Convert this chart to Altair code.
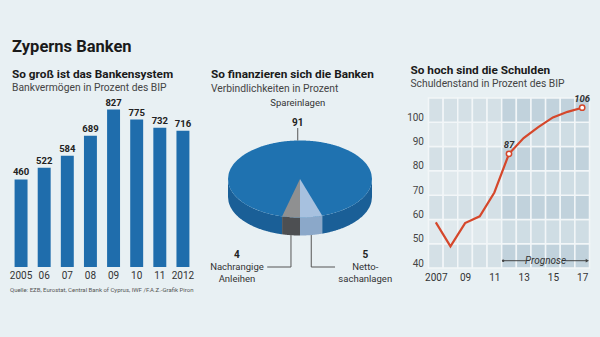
import altair as alt
import numpy as np
import pandas as pd

FONT = 'Roboto, "Liberation Sans", sans-serif'
BG = "#e8f0f3"

# ---------------- data ----------------
bar_years = ["2005", "06", "07", "08", "09", "10", "11", "2012"]
bank_assets = [460, 522, 584, 689, 827, 775, 732, 716]
source_note = "Quelle: EZB, Eurostat, Central Bank of Cyprus, IWF /F.A.Z.-Grafik Piron"

pie_names = ["Spareinlagen", "Nachrangige\nAnleihen", "Netto-\nsachanlagen"]
pie_shares = [91, 4, 5]

debt_years = [2007, 2008, 2009, 2010, 2011, 2012, 2013, 2014, 2015, 2016, 2017]
debt_values = [58.8, 48.9, 58.5, 61.3, 71.1, 87, 93.5, 98, 102, 104.3, 106]
debt_marked = [2012, 2017]
forecast_from = 2012
debt_y_ticks = [40, 50, 60, 70, 80, 90, 100]
debt_x_ticks = [2007, 2009, 2011, 2013, 2015, 2017]
debt_x_labels = ["2007", "09", "11", "13", "15", "17"]


def panel_title(text, sub, dx):
    return alt.TitleParams(
        text=text, subtitle=sub, anchor="start", frame="group", dx=dx, offset=4,
        font=FONT, fontSize=11.8, fontWeight="bold", color="#1a1a1a",
        subtitleFont=FONT, subtitleFontSize=10.3, subtitleColor="#444", subtitlePadding=3,
    )


# ---------------- bar chart ----------------
bar_df = pd.DataFrame({"jahr": bar_years, "wert": bank_assets})
bar_x = alt.X(
    "jahr:N", sort=bar_years,
    scale=alt.Scale(paddingInner=0.44, paddingOuter=0.22),
    axis=alt.Axis(
        title=source_note, titleAnchor="start", titleFontSize=6, titleFontWeight="normal",
        titleColor="#555", titlePadding=6, titleFont=FONT,
        labelAngle=0, labelFontSize=10, labelColor="#333", labelPadding=3, labelFont=FONT,
        ticks=False, domain=False,
    ),
)
bar_y = alt.Y("wert:Q", scale=alt.Scale(domain=[0, 888], nice=False), axis=None)
bars = alt.Chart(bar_df).mark_bar(color="#1f6dac").encode(x=bar_x, y=bar_y)
bar_text = alt.Chart(bar_df).mark_text(
    baseline="bottom", dy=-2, fontSize=9.5, fontWeight="bold", color="#222", font=FONT
).encode(x=bar_x, y=bar_y, text="wert:Q")
bar_chart = alt.layer(bars, bar_text).properties(
    width=185, height=169,
    title=panel_title("So groß ist das Bankensystem", "Bankvermögen in Prozent des BIP", 2.5),
)

# ---------------- pie (3D ellipse) ----------------
b = 0.535      # ellipse flattening
depth = 0.25   # side thickness
ang_g = 2 * np.pi * pie_shares[1] / 100.0
ang_l = 2 * np.pi * pie_shares[2] / 100.0
xg, yg = -np.sin(ang_g), -b * np.cos(ang_g)
xl, yl = np.sin(ang_l), -b * np.cos(ang_l)


def front(x):
    return -b * np.sqrt(np.clip(1 - x ** 2, 0, None))


def back(x):
    return b * np.sqrt(np.clip(1 - x ** 2, 0, None))


def seg(rows, name, color, x0, x1, top_fn, bot_fn, n=90):
    for x in np.linspace(x0, x1, n):
        rows.append(dict(seg=name, farbe=color, x=float(x), y=float(top_fn(x)), y2=float(bot_fn(x))))


side_rows = []
seg(side_rows, "s1", "#1a5f97", -1, xg, front, lambda x: front(x) - depth)
seg(side_rows, "s2", "#4d4f52", xg, 0, front, lambda x: front(x) - depth)
seg(side_rows, "s3", "#8ba8c9", 0, xl, front, lambda x: front(x) - depth)
seg(side_rows, "s4", "#1a5f97", xl, 1, front, lambda x: front(x) - depth)
top_rows = []
seg(top_rows, "t", "#1f72b0", -1, 1, back, front, n=240)
wedge_rows = []
seg(wedge_rows, "w1", "#8f9091", xg, 0, lambda x: yg / xg * x, front)
seg(wedge_rows, "w2", "#a7c1df", 0, xl, lambda x: yl / xl * x, front)

px = alt.Scale(domain=[-1.25, 1.5625], nice=False, zero=False)
py = alt.Scale(domain=[-88 / 72, 81 / 72], nice=False, zero=False)


def pie_area(rows):
    return alt.Chart(pd.DataFrame(rows)).mark_area(opacity=1).encode(
        x=alt.X("x:Q", scale=px, axis=None),
        y=alt.Y("y:Q", scale=py, axis=None, stack=None),
        y2="y2:Q",
        color=alt.Color("farbe:N", scale=None),
        detail="seg:N",
    )


mid_blue = np.pi + (ang_l - ang_g) / 2
xm = float(np.sin(mid_blue))
xg_mid = float(-np.sin(ang_g / 2))
xl_mid = float(np.sin(ang_l / 2))
lab_y = -88 / 72
leader_df = pd.DataFrame([
    dict(x=xm, y=0.708, x2=xm, y2=float(back(xm))),
    dict(x=xg_mid, y=float(front(xg_mid) - depth), x2=xg_mid, y2=lab_y),
    dict(x=xg_mid, y=lab_y, x2=xg_mid - 0.33, y2=lab_y),
    dict(x=xl_mid, y=float(front(xl_mid) - depth), x2=xl_mid, y2=lab_y),
    dict(x=xl_mid, y=lab_y, x2=xl_mid + 0.33, y2=lab_y),
])
leaders = alt.Chart(leader_df).mark_rule(color="#555", strokeWidth=1).encode(
    x=alt.X("x:Q", scale=px, axis=None), y=alt.Y("y:Q", scale=py, axis=None), x2="x2:Q", y2="y2:Q"
)
val_df = pd.DataFrame([
    dict(x=xm, y=0.778, t=str(pie_shares[0])),
    dict(x=xg_mid - 0.75, y=-1.06, t=str(pie_shares[1])),
    dict(x=xl_mid + 0.75, y=-1.06, t=str(pie_shares[2])),
])
name_df = pd.DataFrame([
    dict(x=xm, y=1.12, t=pie_names[0]),
    dict(x=xg_mid - 0.75, y=-1.155, t=pie_names[1]),
    dict(x=xl_mid + 0.75, y=-1.155, t=pie_names[2]),
])
val_text = alt.Chart(val_df).mark_text(
    fontSize=10, fontWeight="bold", color="#222", font=FONT
).encode(x=alt.X("x:Q", scale=px, axis=None), y=alt.Y("y:Q", scale=py, axis=None), text="t:N")
name_text = alt.Chart(name_df).mark_text(
    fontSize=9.5, color="#333", font=FONT, baseline="top", lineBreak="\n", lineHeight=11.5
).encode(x=alt.X("x:Q", scale=px, axis=None), y=alt.Y("y:Q", scale=py, axis=None), text="t:N")

pie_chart = alt.layer(
    pie_area(side_rows), pie_area(top_rows), pie_area(wedge_rows), leaders, val_text, name_text
).properties(
    width=202.5, height=169,
    title=panel_title("So finanzieren sich die Banken", "Verbindlichkeiten in Prozent", 1),
)

# ---------------- line chart ----------------
cell_colors = {(False, False): "#e0e9ed", (False, True): "#d4e0e6",
               (True, False): "#cfdde4", (True, True): "#c1d2dc"}
cells = []
for yr in debt_years:
    for band in debt_y_ticks:
        prog = yr >= forecast_from
        dark = (band // 10) % 2 == 0
        cells.append(dict(x=yr - 0.5, x2=yr + 0.5, y=band, y2=band + 10, farbe=cell_colors[(prog, dark)]))
cell_df = pd.DataFrame(cells)

label_expr = " : ".join(
    f"datum.value == {v} ? '{l}'" for v, l in zip(debt_x_ticks, debt_x_labels)
) + " : ''"
x_axis = alt.Axis(values=debt_x_ticks, labelExpr=label_expr, labelFontSize=10, labelColor="#333",
                  labelPadding=4, labelFont=FONT, ticks=False, domain=False, grid=False, title=None,
                  labelOverlap=False)
y_axis = alt.Axis(values=debt_y_ticks, labelBaseline="bottom", labelFontSize=10, labelColor="#444",
                  labelPadding=5, labelFont=FONT, ticks=False, domain=False, grid=False, title=None,
                  labelOverlap=False)
lx = alt.Scale(domain=[2006.5, 2017.5], nice=False, zero=False)
ly = alt.Scale(domain=[40, 110], nice=False, zero=False)


def LX(f):
    return alt.X(f, scale=lx, axis=x_axis)


def LY(f):
    return alt.Y(f, scale=ly, axis=y_axis)


cell_layer = alt.Chart(cell_df).mark_rect(stroke="#f2f6f8", strokeWidth=1.5).encode(
    x=LX("x:Q"), x2="x2:Q", y=LY("y:Q"), y2="y2:Q",
    color=alt.Color("farbe:N", scale=None),
)
debt_df = pd.DataFrame({"jahr": debt_years, "wert": debt_values})
line = alt.Chart(debt_df).mark_line(color="#d5472b", strokeWidth=2.2).encode(
    x=LX("jahr:Q"), y=LY("wert:Q")
)
marked = alt.Chart(debt_df[debt_df["jahr"].isin(debt_marked)])
pts = marked.mark_point(shape="circle", filled=True, fill="white", stroke="#d5472b",
                        strokeWidth=1.5, size=28, opacity=1).encode(
    x=LX("jahr:Q"), y=LY("wert:Q")
)
pt_text = marked.mark_text(dy=-9, fontStyle="italic", fontWeight="bold", fontSize=9.5,
                           color="#333", font=FONT).encode(
    x=LX("jahr:Q"), y=LY("wert:Q"), text=alt.Text("wert:Q", format="d")
)
fc_df = pd.DataFrame([
    dict(x=forecast_from - 0.4, x2=forecast_from + 1.15, y=43),
    dict(x=forecast_from + 3.85, x2=2017.3, y=43),
])
fc_rules = alt.Chart(fc_df).mark_rule(color="#444", strokeWidth=1).encode(
    x=LX("x:Q"), x2="x2:Q", y=LY("y:Q")
)
fc_head = alt.Chart(pd.DataFrame([dict(x=2017.35, y=43)])).mark_point(
    shape="triangle-right", filled=True, color="#444", size=14, opacity=1
).encode(x=LX("x:Q"), y=LY("y:Q"))
fc_tail = alt.Chart(pd.DataFrame([dict(x=forecast_from - 0.4, y=43)])).mark_point(
    shape="circle", filled=True, color="#444", size=6, opacity=1
).encode(x=LX("x:Q"), y=LY("y:Q"))
fc_text = alt.Chart(pd.DataFrame([dict(x=(forecast_from - 0.5 + 2017.5) / 2, y=43, t="Prognose")])).mark_text(
    fontStyle="italic", fontSize=10, color="#333", font=FONT
).encode(x=LX("x:Q"), y=LY("y:Q"), text="t:N")

line_chart = alt.layer(cell_layer, line, pts, pt_text, fc_rules, fc_head, fc_tail, fc_text).properties(
    width=161, height=170,
    title=panel_title("So hoch sind die Schulden", "Schuldenstand in Prozent des BIP", -18),
)

# ---------------- compose ----------------
chart = alt.HConcatChart(
    hconcat=[bar_chart, pie_chart, line_chart], spacing=15.5, bounds="flush",
).properties(
    title=alt.TitleParams(
        text="Zyperns Banken", anchor="start", frame="group", dx=2.5, offset=9,
        font=FONT, fontSize=16.5, fontWeight="bold", color="#1a1a1a",
    ),
    autosize=alt.AutoSizeParams(type="none"),
    padding={"left": 9.5, "top": 98, "right": 590.5, "bottom": 239},
).configure(background=BG, font=FONT).configure_view(stroke=None)

chart.save("out.html", embed_options={"renderer": "svg", "actions": False})
